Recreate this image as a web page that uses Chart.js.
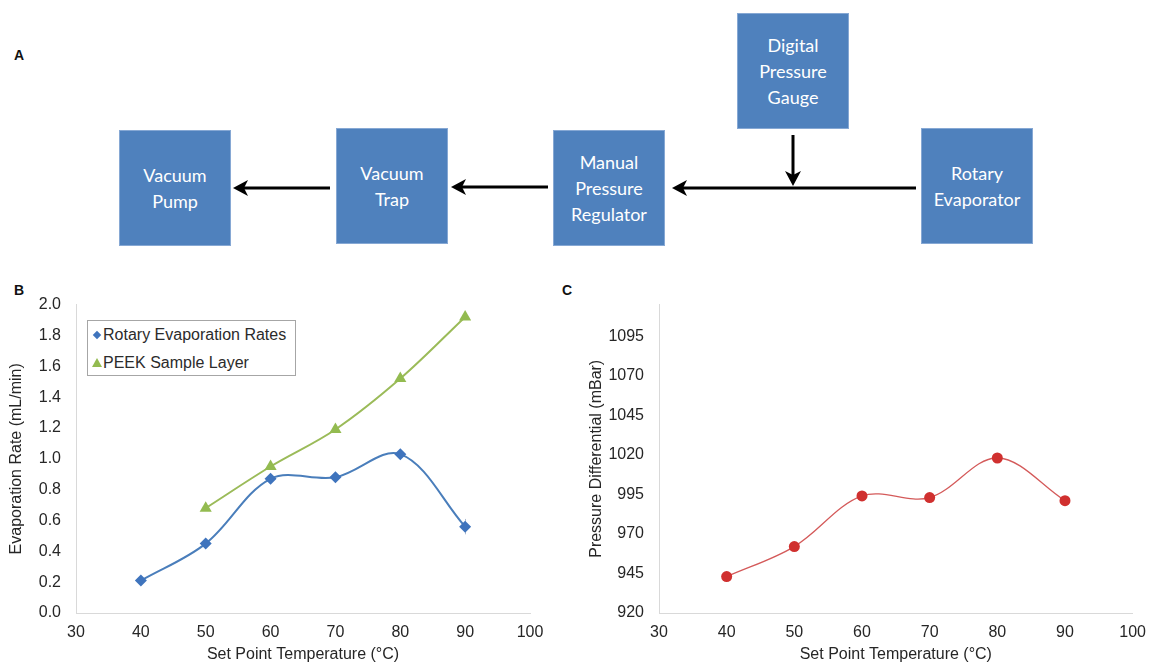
<!DOCTYPE html>
<html>
<head>
<meta charset="utf-8">
<title>Rotary evaporation setup and rates</title>
<script src="https://cdn.jsdelivr.net/npm/chart.js@4.4.1/dist/chart.umd.min.js"></script>
<style>
  html, body { margin: 0; padding: 0; background: #fff; }
  #page { position: relative; width: 1156px; height: 664px; overflow: hidden; font-family: "Liberation Sans", Arial, sans-serif; }
  .panel { position: absolute; font-weight: bold; font-size: 14px; line-height: 16px; color: #111; }
  .box { position: absolute; width: 112px; height: 116px; background: #4f81bd; border: 1px solid #86a8d4;
         box-sizing: border-box; color: #fff; font-family: Lato, "Open Sans", sans-serif; font-size: 18px;
         line-height: 26px; display: flex; align-items: center; justify-content: center; text-align: center; }
  canvas { position: absolute; }
  .legend { position: absolute; left: 87px; top: 320px; width: 209px; height: 56px; border: 1px solid #a6a6a6;
            box-sizing: border-box; background: #fff; font-size: 16px; color: #2b2b2b; }
  .legend .row { position: absolute; left: 0; height: 20px; line-height: 20px; white-space: nowrap; }
  .legend .txt { position: absolute; left: 15px; top: 0; }
  .diamond { position: absolute; left: 6px; top: 7px; width: 6px; height: 6px; background: #3f74bd; transform: rotate(45deg); }
  .tri { position: absolute; left: 4px; top: 5px; width: 0; height: 0; border-left: 5px solid transparent;
         border-right: 5px solid transparent; border-bottom: 9px solid #93bb50; }
</style>
</head>
<body>
<div id="page">
  <!-- Panel A: vacuum line schematic -->
  <div class="panel" style="left:14px;top:47px;">A</div>
  <div class="box" style="left:119px;top:130px;">Vacuum<br>Pump</div>
  <div class="box" style="left:336px;top:128px;">Vacuum<br>Trap</div>
  <div class="box" style="left:553px;top:130px;">Manual<br>Pressure<br>Regulator</div>
  <div class="box" style="left:737px;top:13px;">Digital<br>Pressure<br>Gauge</div>
  <div class="box" style="left:921px;top:128px;">Rotary<br>Evaporator</div>
  <svg width="1156" height="270" style="position:absolute;left:0;top:0;">
    <g stroke="#000" stroke-width="3" fill="none">
      <line x1="330" y1="188" x2="243" y2="188"/>
      <line x1="548" y1="187" x2="461" y2="187"/>
      <line x1="916" y1="188" x2="682" y2="188"/>
      <line x1="793" y1="135" x2="793" y2="176"/>
    </g>
    <g fill="#000">
      <polygon points="233,188 248,180 244,188 248,196"/>
      <polygon points="451,187 466,179 462,187 466,195"/>
      <polygon points="672,188 687,180 683,188 687,196"/>
      <polygon points="793,186 785,171 793,175 801,171"/>
    </g>
  </svg>

  <!-- Panel B -->
  <div class="panel" style="left:14px;top:282px;">B</div>
  <canvas id="chartB" width="560" height="384" style="left:0;top:280px;"></canvas>
  <div class="legend">
    <div class="row" style="top:4px;"><span class="diamond"></span><span class="txt">Rotary Evaporation Rates</span></div>
    <div class="row" style="top:32px;"><span class="tri"></span><span class="txt">PEEK Sample Layer</span></div>
  </div>

  <!-- Panel C -->
  <div class="panel" style="left:562px;top:282px;">C</div>
  <canvas id="chartC" width="596" height="384" style="left:560px;top:280px;"></canvas>
</div>

<script>
// Set point temperatures (°C)
const temps = [40, 50, 60, 70, 80, 90];
// Rotary evaporation rate (mL/min)
const rotaryRate = [0.21, 0.45, 0.87, 0.88, 1.03, 0.56];
const rotaryErr = [0, 0, 0, 0, 0, 0.05];
// PEEK sample layer evaporation rate (mL/min)
const peekTemps = [50, 60, 70, 80, 90];
const peekRate = [0.68, 0.95, 1.19, 1.52, 1.92];
// Pressure differential (mBar)
const pressureDiff = [943, 962, 994, 993, 1018, 991];
// Axis tick values
const xTicks = [30, 40, 50, 60, 70, 80, 90, 100];
const rateTicks = [0.0, 0.2, 0.4, 0.6, 0.8, 1.0, 1.2, 1.4, 1.6, 1.8, 2.0];
const pressureTicks = [920, 945, 970, 995, 1020, 1045, 1070, 1095];

const FONT = '"Liberation Sans", Arial, sans-serif';
const TXT = '#262626';
const AXIS = '#d9d9d9';

const toPoints = (xs, ys) => xs.map((x, i) => ({ x: x, y: ys[i] }));

// Vertical error bars, drawn beneath the series so markers sit on top
const errorBars = {
  id: 'errorBars',
  beforeDatasetsDraw(chart) {
    const { ctx, scales: { x, y } } = chart;
    chart.data.datasets.forEach(ds => {
      if (!ds.errors) return;
      ctx.save();
      ctx.strokeStyle = '#aebbd0';
      ctx.lineWidth = 1;
      ds.data.forEach((p, i) => {
        const e = ds.errors[i];
        if (!e) return;
        const px = Math.round(x.getPixelForValue(p.x)) + 0.5;
        ctx.beginPath();
        ctx.moveTo(px, y.getPixelForValue(p.y + e));
        ctx.lineTo(px, y.getPixelForValue(p.y - e));
        ctx.stroke();
      });
      ctx.restore();
    });
  }
};

function xScale() {
  return {
    type: 'linear', min: 30, max: 100,
    afterBuildTicks(s) { s.ticks = xTicks.map(v => ({ value: v })); },
    ticks: { padding: 10, color: TXT, font: { family: FONT, size: 16 } },
    grid: { display: false, drawTicks: false },
    border: { display: true, color: AXIS, width: 1 },
    title: { display: true, text: 'Set Point Temperature (°C)', color: TXT,
             font: { family: FONT, size: 16 }, padding: { top: 0, bottom: 0 } },
    afterFit(s) { s.height = 51; }
  };
}

function yScale(min, max, ticks, fmt, title, width, titlePad) {
  return {
    type: 'linear', min: min, max: max,
    afterBuildTicks(s) { s.ticks = ticks.map(v => ({ value: v })); },
    ticks: { padding: 15, color: TXT, font: { family: FONT, size: 16 }, callback: fmt },
    grid: { display: false, drawTicks: false },
    border: { display: true, color: AXIS, width: 1 },
    title: { display: true, text: title, color: TXT,
             font: { family: FONT, size: 16 }, padding: { top: titlePad, bottom: 0 } },
    afterFit(s) { s.width = width; }
  };
}

new Chart(document.getElementById('chartB'), {
  type: 'line',
  data: {
    datasets: [
      {
        label: 'Rotary Evaporation Rates',
        data: toPoints(temps, rotaryRate),
        errors: rotaryErr,
        borderColor: '#4a7ebb', borderWidth: 2, tension: 0.35,
        pointStyle: 'rectRot', pointRadius: 6,
        pointBackgroundColor: '#3f74bd', pointBorderColor: '#3f74bd', pointBorderWidth: 0
      },
      {
        label: 'PEEK Sample Layer',
        data: toPoints(peekTemps, peekRate),
        borderColor: '#9bbb59', borderWidth: 2, tension: 0.35,
        pointStyle: 'triangle', pointRadius: 7,
        pointBackgroundColor: '#93bb50', pointBorderColor: '#93bb50', pointBorderWidth: 0
      }
    ]
  },
  options: {
    responsive: false, animation: false, devicePixelRatio: 1,
    layout: { padding: { top: 23, right: 30, bottom: 0, left: 0 } },
    plugins: { legend: { display: false }, tooltip: { enabled: false } },
    scales: {
      x: xScale(),
      y: yScale(0, 2, rateTicks, v => Number(v).toFixed(1), 'Evaporation Rate (mL/min)', 76, 7)
    }
  },
  plugins: [errorBars]
});

new Chart(document.getElementById('chartC'), {
  type: 'line',
  data: {
    datasets: [
      {
        label: 'Pressure Differential',
        data: toPoints(temps, pressureDiff),
        borderColor: '#d45a5a', borderWidth: 1.3, tension: 0.35,
        pointStyle: 'circle', pointRadius: 5.5,
        pointBackgroundColor: '#d0302f', pointBorderColor: '#d0302f', pointBorderWidth: 0
      }
    ]
  },
  options: {
    responsive: false, animation: false, devicePixelRatio: 1,
    layout: { padding: { top: 22, right: 19, bottom: 0, left: 0 } },
    plugins: { legend: { display: false }, tooltip: { enabled: false } },
    scales: {
      x: xScale(),
      y: yScale(920, 1115, pressureTicks, v => String(v), 'Pressure Differential (mBar)', 99, 27)
    }
  }
});
</script>
</body>
</html>
